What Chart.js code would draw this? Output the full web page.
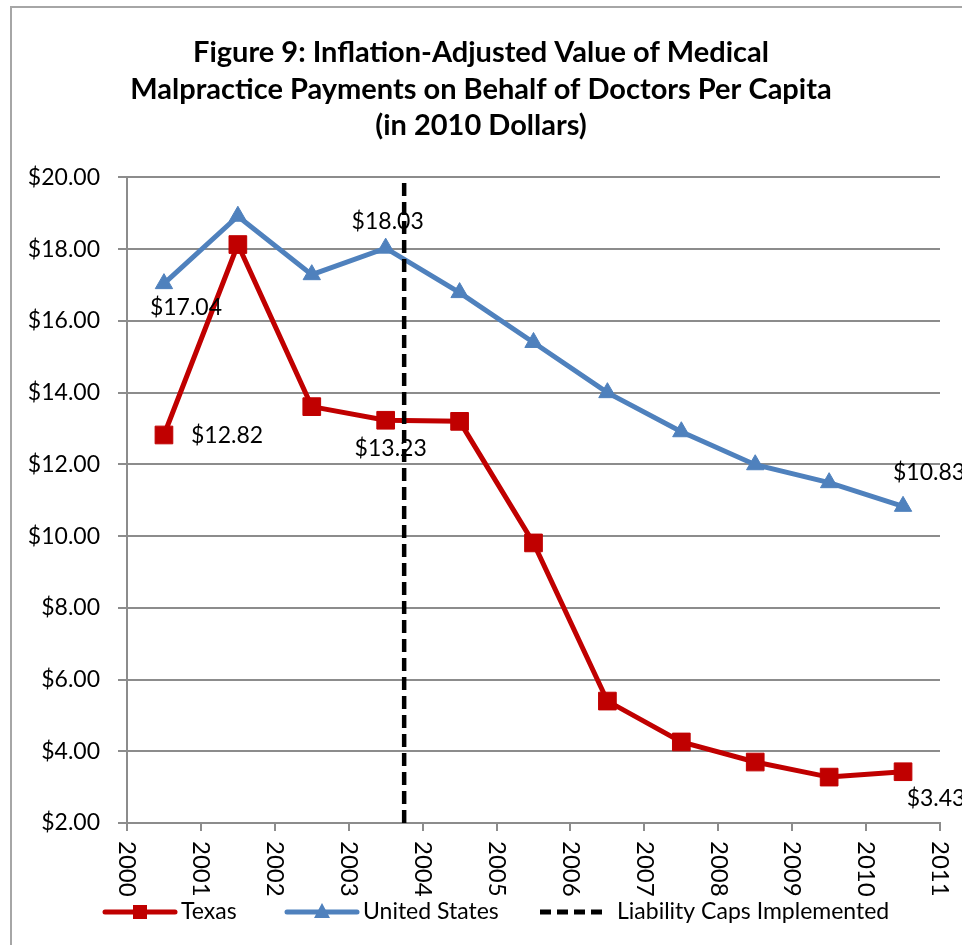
<!DOCTYPE html>
<html>
<head>
<meta charset="utf-8">
<title>Figure 9</title>
<script src="https://cdn.jsdelivr.net/npm/chart.js@4.4.0/dist/chart.umd.min.js"></script>
<style>
  html, body { margin: 0; padding: 0; background: #fff; }
</style>
</head>
<body>
<canvas id="malpracticeChart" width="962" height="945"></canvas>
<script>
// data (points sit mid-year)
const years = [2000, 2001, 2002, 2003, 2004, 2005, 2006, 2007, 2008, 2009, 2010];
const texasValues = [12.82, 18.13, 13.61, 13.23, 13.20, 9.81, 5.40, 4.26, 3.70, 3.28, 3.43];
const usValues = [17.04, 18.92, 17.29, 18.03, 16.79, 15.40, 14.00, 12.91, 11.99, 11.49, 10.83];
const xTickLabels = ['2000', '2001', '2002', '2003', '2004', '2005', '2006', '2007', '2008', '2009', '2010', '2011'];
const capYear = 2003.75;
const capRange = [2, 20];
const texasLabelIdx = [0, 3, 10];
const usLabelIdx = [0, 3, 10];

const FONT = 'Lato, "Open Sans", sans-serif';
const RED = '#C00000';
const BLUE = '#4F81BD';
const GRID = '#8c8c8c';

function money(v) {
  return '$' + v.toFixed(2);
}

// frame around the chart
const framePlugin = {
  id: 'frame',
  beforeDraw(chart) {
    const ctx = chart.ctx;
    ctx.save();
    ctx.fillStyle = '#fff';
    ctx.fillRect(0, 0, chart.width, chart.height);
    ctx.strokeStyle = '#a6a6a6';
    ctx.lineWidth = 2;
    ctx.beginPath();
    ctx.moveTo(11, chart.height);
    ctx.lineTo(11, 7);
    ctx.lineTo(chart.width, 7);
    ctx.stroke();
    ctx.restore();
  }
};

// rotated year labels, value labels and the legend
const extrasPlugin = {
  id: 'extras',
  afterDraw(chart) {
    const ctx = chart.ctx;
    const xs = chart.scales.x;
    const bottom = chart.chartArea.bottom;

    ctx.save();
    ctx.fillStyle = '#000';
    ctx.font = '24px ' + FONT;
    ctx.textAlign = 'left';
    ctx.textBaseline = 'middle';
    xTickLabels.forEach(lbl => {
      const px = xs.getPixelForValue(Number(lbl));
      ctx.save();
      ctx.translate(px, bottom + 18);
      ctx.rotate(Math.PI / 2);
      ctx.fillText(lbl, 0, 0);
      ctx.restore();
    });

    // value labels
    ctx.font = '23px ' + FONT;
    const place = {
      tx: [{dx: 27, dy: 1, align: 'left'}, {dx: 5, dy: 28, align: 'center'}, {dx: 33, dy: 27, align: 'center'}],
      us: [{dx: 22, dy: 24, align: 'center'}, {dx: 2, dy: -27, align: 'center'}, {dx: 26, dy: -34, align: 'center'}]
    };
    const txMeta = chart.getDatasetMeta(1);
    const usMeta = chart.getDatasetMeta(2);
    texasLabelIdx.forEach((i, k) => {
      const pt = txMeta.data[i];
      const p = place.tx[k];
      ctx.textAlign = p.align;
      ctx.fillText(money(texasValues[i]), pt.x + p.dx, pt.y + p.dy);
    });
    usLabelIdx.forEach((i, k) => {
      const pt = usMeta.data[i];
      const p = place.us[k];
      ctx.textAlign = p.align;
      ctx.fillText(money(usValues[i]), pt.x + p.dx, pt.y + p.dy);
    });

    // legend
    const ly = 912;
    ctx.font = '23px ' + FONT;
    ctx.textAlign = 'left';
    ctx.lineCap = 'round';

    ctx.strokeStyle = RED;
    ctx.lineWidth = 5;
    ctx.beginPath();
    ctx.moveTo(105, ly);
    ctx.lineTo(175, ly);
    ctx.stroke();
    ctx.fillStyle = RED;
    ctx.fillRect(133, ly - 7, 14, 14);
    ctx.fillStyle = '#000';
    ctx.fillText('Texas', 181, ly);

    ctx.strokeStyle = BLUE;
    ctx.beginPath();
    ctx.moveTo(287, ly);
    ctx.lineTo(357, ly);
    ctx.stroke();
    ctx.fillStyle = BLUE;
    ctx.beginPath();
    ctx.moveTo(322, ly - 9);
    ctx.lineTo(330, ly + 6);
    ctx.lineTo(314, ly + 6);
    ctx.closePath();
    ctx.fill();
    ctx.fillStyle = '#000';
    ctx.fillText('United States', 363, ly);

    ctx.strokeStyle = '#000';
    ctx.lineWidth = 5;
    ctx.lineCap = 'butt';
    ctx.setLineDash([11, 6]);
    ctx.beginPath();
    ctx.moveTo(540, ly);
    ctx.lineTo(607, ly);
    ctx.stroke();
    ctx.setLineDash([]);
    ctx.fillText('Liability Caps Implemented', 617, ly);
    ctx.restore();
  }
};

const ctx = document.getElementById('malpracticeChart').getContext('2d');

const chart = new Chart(ctx, {
  type: 'line',
  data: {
    datasets: [
      {
        label: 'Liability Caps Implemented',
        data: capRange.map(v => ({x: capYear, y: v})),
        borderColor: '#000',
        borderWidth: 4.5,
        borderDash: [13, 6],
        pointRadius: 0,
        fill: false
      },
      {
        label: 'Texas',
        data: years.map((y, i) => ({x: y + 0.5, y: texasValues[i]})),
        borderColor: RED,
        backgroundColor: RED,
        borderWidth: 5,
        pointStyle: 'rect',
        pointRadius: 12.5,
        pointBorderWidth: 1,
        pointBorderColor: RED,
        fill: false
      },
      {
        label: 'United States',
        data: years.map((y, i) => ({x: y + 0.5, y: usValues[i]})),
        borderColor: BLUE,
        backgroundColor: BLUE,
        borderWidth: 5,
        pointStyle: 'triangle',
        pointRadius: 10,
        pointBorderWidth: 1,
        pointBorderColor: BLUE,
        fill: false
      }
    ]
  },
  options: {
    responsive: false,
    animation: false,
    layout: { padding: { left: 22, right: 22, top: 0, bottom: 0 } },
    scales: {
      x: {
        type: 'linear',
        min: 2000,
        max: 2011,
        ticks: { stepSize: 1, display: false },
        grid: { drawOnChartArea: false, drawTicks: true, tickLength: 8, color: GRID, lineWidth: 2 },
        border: { color: GRID, width: 2 },
        afterFit: s => { s.height = 122; }
      },
      y: {
        min: 2,
        max: 20,
        ticks: {
          stepSize: 2,
          padding: 18,
          color: '#000',
          font: { size: 23, family: FONT },
          callback: v => money(v)
        },
        grid: { color: GRID, lineWidth: 2, tickLength: 9 },
        border: { color: GRID, width: 2 },
        afterFit: s => { s.width = 105; }
      }
    },
    plugins: {
      legend: { display: false },
      tooltip: { enabled: false },
      title: {
        display: true,
        text: [
          'Figure 9: Inflation-Adjusted Value of Medical',
          'Malpractice Payments on Behalf of Doctors Per Capita',
          '(in 2010 Dollars)'
        ],
        color: '#000',
        font: { size: 29, weight: 'bold', family: FONT, lineHeight: 1.27 },
        padding: { top: 34, bottom: 33 }
      }
    }
  },
  plugins: [framePlugin, extrasPlugin]
});
</script>
</body>
</html>
